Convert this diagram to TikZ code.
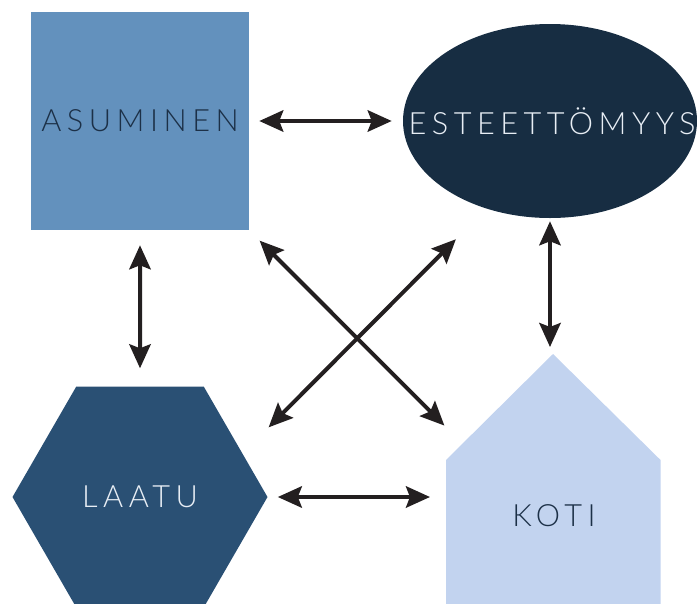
\documentclass[tikz,border=0pt]{standalone}
\usepackage{fontspec}
\setmainfont{Lato Light}
\usetikzlibrary{arrows.meta,shapes.geometric,calc}
\definecolor{asublue}{HTML}{6391BD}
\definecolor{estnavy}{HTML}{172D42}
\definecolor{laatublue}{HTML}{2A5074}
\definecolor{kotiblue}{HTML}{C2D3EF}
\definecolor{darktext}{HTML}{1C3047}
\definecolor{lighttext}{HTML}{E8EEF5}
\definecolor{arrowblack}{HTML}{231F20}

\begin{document}
\begin{tikzpicture}[x=0.75pt, y=-0.75pt,
    link/.style={line width=3pt, draw=arrowblack,
      {Stealth[length=18pt, width=16pt, inset=3pt]}-{Stealth[length=18pt, width=16pt, inset=3pt]}},
    word/.style={font=\fontsize{23}{27}\selectfont\addfontfeatures{LetterSpace=18}}]
    \useasboundingbox (0,0) rectangle (697,604);
    % the four shapes
    \node[fill=asublue, minimum size=163.5pt, inner sep=0, word, text=darktext] at (140,121) (asu) {ASUMINEN};
    \node[ellipse, fill=estnavy, minimum width=220.5pt, minimum height=145.5pt, inner sep=0,
          label={[word, text=lighttext, xshift=1.5pt]center:ESTEETTÖMYYS}] at (550,121) (est) {};
    \node[regular polygon, regular polygon sides=6, fill=laatublue, minimum size=191.25pt, inner sep=0,
          word, text=lighttext] at (140,497) (laatu) {LAATU};
    \node[minimum width=160.5pt, minimum height=108pt, inner sep=0, anchor=north west] at (446,460) (koti) {};
    \coordinate (apex) at (553,354);
    \fill[kotiblue] (koti.south west) -- (koti.north west) -- (apex) -- (koti.north east) -- (koti.south east) -- cycle;
    \node[word, text=darktext] at (554,516) (kotitxt) {KOTI};
    % arrows
    \draw[link, shorten <=7.5pt, shorten >=8.25pt] (asu.east) -- (est.west);
    \draw[link, shorten <=11.25pt, shorten >=13.5pt] (asu.south) -- (laatu.north);
    \draw[link, shorten <=2.25pt, shorten >=5.25pt] (est.south) -- (est.south |- apex);
    \draw[link, shorten <=7.5pt, shorten >=12pt] (laatu.east) -- (laatu.east -| koti.west);
    \draw[link, shorten <=11pt, shorten >=19.2pt] (asu.south east) -- ($(koti.north west)!0.154!(apex)$);
    \draw[link, shorten <=32.3pt, shorten >=27.6pt] (est.234) -- (laatu.23);
\end{tikzpicture}
\end{document}
